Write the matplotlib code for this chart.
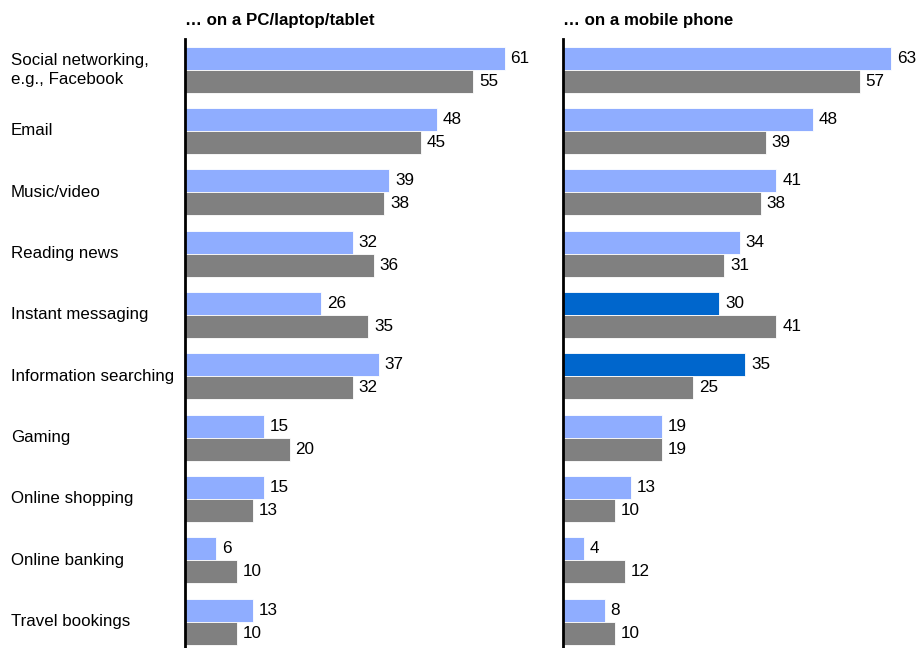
import matplotlib.pyplot as plt

plt.rcParams['font.family'] = ['Liberation Sans', 'DejaVu Sans']

categories = ["Social networking,\ne.g., Facebook", "Email", "Music/video", "Reading news",
              "Instant messaging", "Information searching", "Gaming", "Online shopping",
              "Online banking", "Travel bookings"]
pcBlue = [61, 48, 39, 32, 26, 37, 15, 15, 6, 13]
pcGrey = [55, 45, 38, 36, 35, 32, 20, 13, 10, 10]
mobBlue = [63, 48, 41, 34, 30, 35, 19, 13, 4, 8]
mobGrey = [57, 39, 38, 31, 41, 25, 19, 10, 12, 10]
mobHighlight = ["Instant messaging", "Information searching"]

lightBlue = "#8fadff"
darkBlue = "#0066cc"
grey = "#808080"

W, H = 917, 648
fig = plt.figure(figsize=(W / 100, H / 100), dpi=100)

def draw(left, right, xmax, blue, greyVals, title, blueColors):
    ax = fig.add_axes([left / W, 0, (right - left) / W, (H - 39) / H])
    y = list(range(len(categories)))
    h = 0.375
    ax.barh([v - h / 2 for v in y], blue, height=h, color=blueColors, edgecolor="white", linewidth=0.6)
    ax.barh([v + h / 2 for v in y], greyVals, height=h, color=grey, edgecolor="white", linewidth=0.6)
    for i in y:
        ax.text(blue[i] + 1.1, i - h / 2, str(blue[i]), va="center", ha="left", fontsize=12.3)
        ax.text(greyVals[i] + 1.1, i + h / 2, str(greyVals[i]), va="center", ha="left", fontsize=12.3)
    ax.set_xlim(0, xmax)
    ax.set_ylim(9.43, -0.5)
    for s in ["top", "right", "bottom"]:
        ax.spines[s].set_visible(False)
    ax.spines["left"].set_linewidth(2)
    ax.set_xticks([])
    ax.set_yticks([])
    fig.text(left / W, 1 - 20 / H, title, fontsize=12.2, fontweight="bold", ha="left", va="center")
    return ax

axL = draw(185, 531, 66, pcBlue, pcGrey, "… on a PC/laptop/tablet", [lightBlue] * len(categories))
mobColors = [darkBlue if c.replace("\n", " ") in mobHighlight else lightBlue for c in categories]
draw(563, 917, 68, mobBlue, mobGrey, "… on a mobile phone", mobColors)

for i, c in enumerate(categories):
    axL.annotate(c, xy=(0, i), xycoords=("figure fraction", "data"), xytext=(11, 0),
                 textcoords="offset pixels", ha="left", va="center", fontsize=12.2, linespacing=1.35)

fig.savefig("out.png", dpi=100)
